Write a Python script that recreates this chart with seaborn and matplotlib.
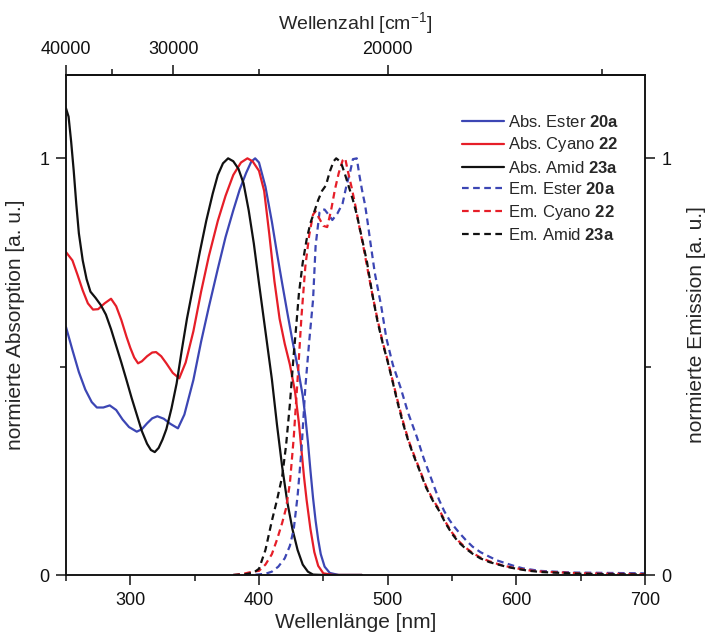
import numpy as np
import matplotlib
matplotlib.use("Agg")
import matplotlib.pyplot as plt
import seaborn as sns
from matplotlib.ticker import FixedLocator, NullFormatter

# ---- absorption spectra (normalised) ----
abs_ester_nm = [250, 255, 260, 265, 270, 274, 279, 284, 289, 294, 299, 305, 309, 313, 317, 321,
                326, 331, 337, 342, 349, 355, 361, 368, 374, 380, 385, 390, 394, 397, 400, 405,
                410, 414, 418, 422, 426, 430, 434, 436, 438, 440, 442, 444, 446, 448, 451, 455,
                462, 470, 480]
abs_ester = [0.595, 0.540, 0.487, 0.445, 0.415, 0.402, 0.402, 0.407, 0.396, 0.373, 0.355, 0.344,
             0.350, 0.364, 0.376, 0.381, 0.375, 0.363, 0.352, 0.385, 0.468, 0.560, 0.643, 0.735,
             0.811, 0.875, 0.925, 0.965, 0.992, 1.000, 0.990, 0.932, 0.848, 0.772, 0.700, 0.630,
             0.562, 0.500, 0.430, 0.380, 0.320, 0.250, 0.185, 0.130, 0.085, 0.050, 0.020, 0.005,
             0.0, 0.0, 0.0]

abs_cyano_nm = [250, 255, 259, 263, 267, 271, 275, 280, 285, 289, 293, 297, 300, 303, 306, 309,
                313, 317, 320, 324, 328, 333, 338, 343, 349, 355, 361, 368, 374, 380, 386, 391,
                395, 400, 404, 408, 412, 416, 420, 424, 428, 431, 433, 435, 437, 440, 443, 446,
                450, 458, 470, 480]
abs_cyano = [0.775, 0.755, 0.720, 0.683, 0.652, 0.637, 0.638, 0.652, 0.663, 0.645, 0.612, 0.572,
             0.545, 0.522, 0.508, 0.513, 0.525, 0.534, 0.535, 0.525, 0.508, 0.485, 0.472, 0.510,
             0.585, 0.680, 0.765, 0.850, 0.910, 0.960, 0.990, 1.000, 0.993, 0.970, 0.922, 0.818,
             0.705, 0.615, 0.555, 0.505, 0.440, 0.365, 0.300, 0.235, 0.180, 0.110, 0.055, 0.022,
             0.004, 0.0, 0.0, 0.0]

abs_amid_nm = [250, 252, 254, 256, 258, 260, 263, 266, 269, 273, 277, 281, 285, 289, 293, 297,
               301, 305, 309, 313, 316, 319, 322, 325, 328, 332, 336, 338, 340, 344, 349, 354,
               359, 364, 368, 372, 376, 380, 384, 388, 392, 396, 400, 405, 410, 414, 418, 422,
               426, 430, 434, 438, 442, 450, 465, 480]
abs_amid = [1.120, 1.100, 1.040, 0.970, 0.890, 0.820, 0.755, 0.710, 0.680, 0.665, 0.648, 0.625,
            0.590, 0.550, 0.510, 0.468, 0.425, 0.385, 0.345, 0.315, 0.300, 0.295, 0.305, 0.325,
            0.350, 0.400, 0.460, 0.500, 0.540, 0.615, 0.695, 0.775, 0.850, 0.915, 0.960, 0.988,
            1.000, 0.993, 0.975, 0.940, 0.875, 0.795, 0.700, 0.585, 0.470, 0.360, 0.260, 0.175,
            0.110, 0.060, 0.025, 0.008, 0.001, 0.0, 0.0, 0.0]

# ---- emission spectra (normalised) ----
em_ester_nm = [380, 395, 405, 410, 415, 420, 424, 427, 430, 433, 436, 439, 442, 444, 447, 449,
               451, 454, 457, 461, 465, 468, 471, 473, 476, 478, 480, 482.5, 484.5, 486.5, 490,
               495, 499, 504, 510, 516, 522.6, 528, 534, 540, 544, 548, 552, 556, 561, 566, 572,
               579, 585, 592, 598, 605, 618, 630, 643, 670, 700]
em_ester = [0.0, 0.0, 0.003, 0.008, 0.020, 0.040, 0.070, 0.110, 0.190, 0.300, 0.450, 0.560,
            0.660, 0.790, 0.870, 0.877, 0.877, 0.865, 0.852, 0.868, 0.892, 0.935, 0.970, 0.998,
            1.000, 0.960, 0.925, 0.887, 0.845, 0.800, 0.725, 0.645, 0.568, 0.505, 0.450, 0.388,
            0.332, 0.280, 0.230, 0.180, 0.153, 0.132, 0.115, 0.100, 0.083, 0.068, 0.055, 0.044,
            0.035, 0.028, 0.022, 0.016, 0.010, 0.008, 0.006, 0.005, 0.004]

em_cyano_nm = [380, 388, 395, 400, 405, 410, 414, 418, 421, 424, 427, 430, 433, 436, 439, 442,
               444, 447, 450, 453, 456, 459, 462, 465, 467, 469, 472, 475, 478, 481, 484, 488,
               492, 496, 500, 504, 508, 512, 516, 520, 525, 530, 535, 540, 545, 550, 555, 560,
               566, 572, 579, 586, 592, 600, 610, 620, 635, 650, 670, 700]
em_cyano = [0.0, 0.003, 0.008, 0.010, 0.025, 0.050, 0.085, 0.125, 0.160, 0.220, 0.330, 0.470,
            0.620, 0.740, 0.815, 0.865, 0.873, 0.855, 0.838, 0.835, 0.875, 0.925, 0.965, 0.995,
            1.000, 0.970, 0.930, 0.885, 0.835, 0.790, 0.740, 0.675, 0.615, 0.560, 0.515, 0.465,
            0.415, 0.368, 0.325, 0.292, 0.252, 0.212, 0.182, 0.157, 0.127, 0.102, 0.082, 0.067,
            0.053, 0.042, 0.033, 0.026, 0.021, 0.016, 0.011, 0.008, 0.006, 0.004, 0.003, 0.002]

em_amid_nm = [380, 390, 396, 400, 405, 410, 414, 418, 421, 424, 427, 429, 431, 434, 437, 440,
              443, 446, 449, 452, 455, 458, 460, 462, 464.5, 467, 470, 473, 476, 480, 484, 488,
              492, 496, 500, 504, 508, 512, 516, 520, 525, 530, 535, 540, 545, 550, 555, 560,
              566, 572, 579, 586, 592, 600, 610, 620, 635, 650, 670, 700]
em_amid = [0.0, 0.002, 0.006, 0.015, 0.060, 0.130, 0.180, 0.236, 0.310, 0.410, 0.530, 0.600,
           0.675, 0.750, 0.805, 0.845, 0.872, 0.900, 0.922, 0.935, 0.968, 0.993, 1.000, 0.995,
           0.983, 0.960, 0.930, 0.900, 0.865, 0.808, 0.750, 0.675, 0.610, 0.558, 0.512, 0.462,
           0.410, 0.363, 0.322, 0.288, 0.249, 0.209, 0.179, 0.154, 0.124, 0.099, 0.079, 0.065,
           0.051, 0.040, 0.031, 0.025, 0.020, 0.015, 0.010, 0.007, 0.005, 0.003, 0.002, 0.001]

series = [
    ("Abs. Ester $\\mathbf{20a}$", abs_ester_nm, abs_ester, "#3c46b4", "-"),
    ("Abs. Cyano $\\mathbf{22}$", abs_cyano_nm, abs_cyano, "#e61e28", "-"),
    ("Abs. Amid $\\mathbf{23a}$", abs_amid_nm, abs_amid, "#111111", "-"),
    ("Em. Ester $\\mathbf{20a}$", em_ester_nm, em_ester, "#3c46b4", (0, (3, 2))),
    ("Em. Cyano $\\mathbf{22}$", em_cyano_nm, em_cyano, "#e61e28", (0, (3, 2))),
    ("Em. Amid $\\mathbf{23a}$", em_amid_nm, em_amid, "#111111", (0, (3, 2))),
]

sns.set_theme(style="ticks")
plt.rcParams["font.family"] = ["Liberation Sans", "DejaVu Sans"]
plt.rcParams["mathtext.fontset"] = "custom"
plt.rcParams["mathtext.rm"] = "Liberation Sans"
plt.rcParams["mathtext.bf"] = "Liberation Sans:bold"
plt.rcParams["axes.linewidth"] = 1.1
plt.rcParams["axes.edgecolor"] = "#111111"
plt.rcParams["lines.solid_joinstyle"] = "round"
plt.rcParams["lines.dash_joinstyle"] = "round"

fig = plt.figure(figsize=(7.13, 6.32), dpi=100)
ax = fig.add_axes([66 / 713, 57 / 632, 579 / 713, 500 / 632])

for label, nm, val, col, ls in series:
    sns.lineplot(x=nm, y=val, ax=ax, color=col, linestyle=ls, linewidth=1.6,
                 label=label, estimator=None, sort=False)

ax.set_xlim(250, 700)
ax.set_ylim(0, 1.2)

tick_kw = dict(direction="out", colors="#111111", labelsize=13, width=1.1)
ax.xaxis.set_major_locator(FixedLocator([300, 400, 500, 600, 700]))
ax.xaxis.set_minor_locator(FixedLocator([250, 350, 450, 550, 650]))
ax.yaxis.set_major_locator(FixedLocator([0, 1]))
ax.yaxis.set_minor_locator(FixedLocator([0.5]))
ax.tick_params(which="major", length=7, pad=5, **tick_kw)
ax.tick_params(which="minor", length=4, **tick_kw)
ax.set_xticklabels(["300", "400", "500", "600", "700"])
ax.set_yticklabels(["0", "1"])
ax.set_xlabel("Wellenlänge [nm]", fontsize=15, labelpad=3)
ax.set_ylabel("normierte Absorption [a. u.]", fontsize=15, labelpad=10)

# right-hand axis for the emission scale
ax2 = ax.twinx()
ax2.set_ylim(0, 1.2)
ax2.yaxis.set_major_locator(FixedLocator([0, 1]))
ax2.yaxis.set_minor_locator(FixedLocator([0.5]))
ax2.yaxis.set_minor_formatter(NullFormatter())
ax2.set_yticklabels(["0", "1"])
ax2.tick_params(which="major", length=7, pad=5, **tick_kw)
ax2.tick_params(which="minor", length=4, **tick_kw)
ax2.set_ylabel("normierte Emission [a. u.]", fontsize=15, labelpad=11)


def nm_to_wavenumber(x):
    x = np.asarray(x, dtype=float)
    with np.errstate(divide="ignore"):
        return np.where(x != 0, 1e7 / np.where(x != 0, x, 1.0), np.inf)


# top axis in wavenumbers
top = ax.secondary_xaxis("top", functions=(nm_to_wavenumber, nm_to_wavenumber))
top.xaxis.set_major_locator(FixedLocator([40000, 30000, 20000]))
top.xaxis.set_minor_locator(FixedLocator([35000, 25000, 15000]))
top.xaxis.set_minor_formatter(NullFormatter())
top.tick_params(which="major", length=7, pad=5, **tick_kw)
top.tick_params(which="minor", length=4, **tick_kw)
top.set_xlabel(r"Wellenzahl [cm$^{-1}$]", fontsize=14, labelpad=8)

for s in ax.spines.values():
    s.set_visible(True)

leg = ax.legend(loc="upper left", bbox_to_anchor=(0.672, 0.935), frameon=False,
                fontsize=12, handlelength=2.55, handletextpad=0.25, labelspacing=0.32,
                borderaxespad=0)

fig.savefig("out.png", dpi=100)
